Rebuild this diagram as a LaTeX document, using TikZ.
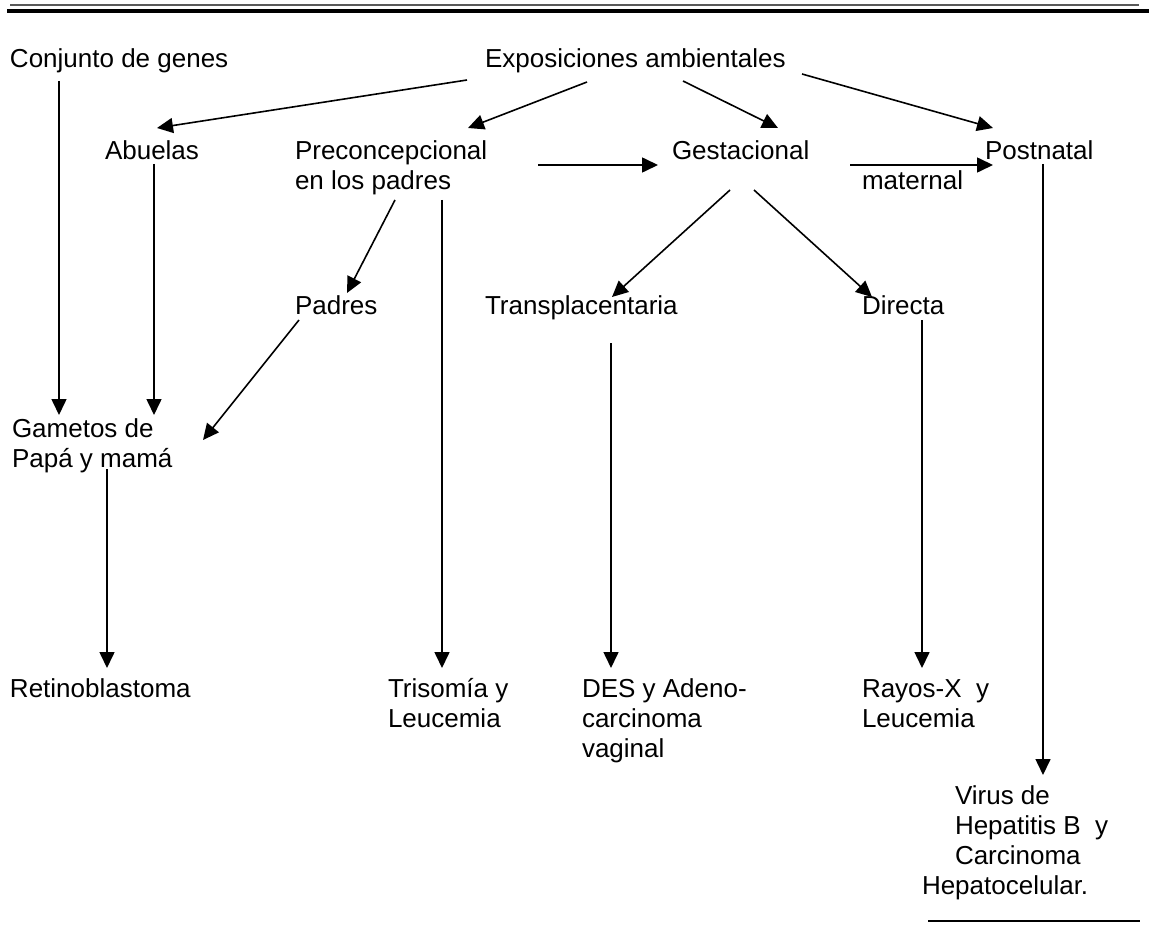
\documentclass[tikz,border=0pt]{standalone}
\usepackage{fontspec}
\setmainfont{Liberation Sans}
\usetikzlibrary{arrows.meta,calc}
\tikzset{
  lbl/.style={anchor=base west, inner sep=0pt, outer sep=0pt, align=left,
    font=\fontsize{13pt}{15pt}\selectfont},
  conn/.style={line width=0.8pt, -{Triangle[length=8pt,width=7.5pt]}},
  rule/.style={line width=#1}
}
\begin{document}
\begin{tikzpicture}[x=0.5pt,y=-0.5pt]
\useasboundingbox (0,0) rectangle (1149,936);
% top rules
\draw[rule=0.8pt, black!65] (10,5) -- (1139,5);
\draw[rule=1.85pt] (7,10.8) -- (1149,10.8);
% nodes (multi-line nodes are placed at the baseline of their last line)
\node[lbl] (genes) at (10,68) {Conjunto de genes};
\node[lbl] (expo) at (485,68) {Exposiciones ambientales};
\node[lbl] (abuelas) at (105,160) {Abuelas};
\node[lbl] (precon) at (295,190) {Preconcepcional\\en los padres};
\node[lbl] (gest) at (672,160) {Gestacional};
\node[lbl] (post) at (985,160) {Postnatal};
\node[lbl] (maternal) at (862,190) {maternal};
\node[lbl] (padres) at (295,314) {Padres};
\node[lbl] (transp) at (485,314) {Transplacentaria};
\node[lbl] (directa) at (862,314) {Directa};
\node[lbl] (gametos) at (12,467) {Gametos de\\Papá y mamá};
\node[lbl] (retino) at (10,697) {Retinoblastoma};
\node[lbl] (trisomia) at (388,727) {Trisomía y\\Leucemia};
\node[lbl] (des) at (582,757) {DES y Adeno-\\carcinoma\\vaginal};
\node[lbl] (rayos) at (862,727) {Rayos-X\ \ y\\Leucemia};
\node[lbl] (virus) at (922,894) {\hspace*{16.5pt}Virus de\\\hspace*{16.5pt}Hepatitis B\ \ y\\\hspace*{16.5pt}Carcinoma\\Hepatocelular.};
% connectors
\draw[conn] ($(expo.base west)+(-18,12)$) -- ($(abuelas.base west)+(52,-32)$);
\draw[conn] ($(expo.base west)+(102,14)$) -- ($(precon.base west)+(173,-62)$);
\draw[conn] ($(expo.base west)+(198,13)$) -- ($(gest.base west)+(106,-32)$);
\draw[conn] ($(expo.base west)+(317,6)$) -- ($(post.base west)+(8,-32)$);
\draw[conn] ($(precon.base west)+(243,-25)$) -- ($(gest.base west)+(-14,5)$);
\draw[conn] ($(gest.base west)+(178,5)$) -- ($(post.base west)+(8,5)$);
\draw[conn] ($(genes.base west)+(49,13)$) -- ($(gametos.base west)+(47,-52)$);
\draw[conn] ($(abuelas.base west)+(49,4)$) -- ($(gametos.base west)+(142,-52)$);
\draw[conn] ($(precon.base west)+(100,10)$) -- ($(padres.base west)+(52,-21)$);
\draw[conn] ($(precon.base west)+(147,10)$) -- ($(trisomia.base west)+(54,-59)$);
\draw[conn] ($(padres.base west)+(4,6)$) -- ($(gametos.base west)+(191,-27)$);
\draw[conn] ($(gest.base west)+(58,30)$) -- ($(transp.base west)+(127,-17)$);
\draw[conn] ($(gest.base west)+(82,30)$) -- ($(directa.base west)+(10,-17)$);
\draw[conn] ($(transp.base west)+(126,29)$) -- ($(des.base west)+(29,-89)$);
\draw[conn] ($(directa.base west)+(60,6)$) -- ($(rayos.base west)+(60,-59)$);
\draw[conn] ($(gametos.base west)+(95,2)$) -- ($(retino.base west)+(97,-29)$);
\draw[conn] ($(post.base west)+(58,4)$) -- ($(virus.base west)+(121,-119)$);
% bottom rule
\draw[rule=1pt] (928,921) -- (1140,921);
\end{tikzpicture}
\end{document}
